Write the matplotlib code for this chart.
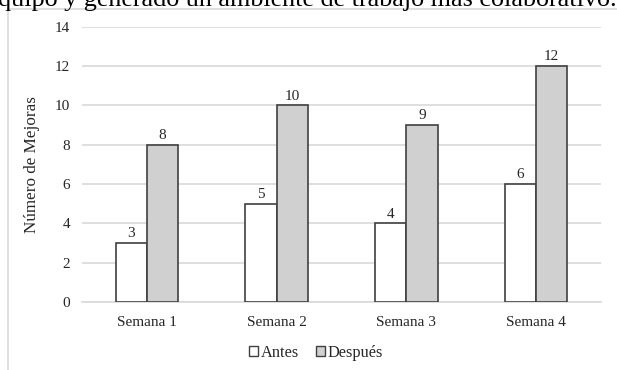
import matplotlib
matplotlib.use("Agg")
import matplotlib.pyplot as plt
import numpy as np
from matplotlib.patches import Patch
from matplotlib.lines import Line2D

plt.rcParams['font.family'] = ['Liberation Serif', 'DejaVu Serif']

categories = ["Semana 1", "Semana 2", "Semana 3", "Semana 4"]
antes = [3, 5, 4, 6]
despues = [8, 10, 9, 12]
series_names = ["Antes", "Después"]
yticks = [0, 2, 4, 6, 8, 10, 12, 14]
caption = "quipo y generado un ambiente de trabajo más colaborativo."

W, H = 617, 370
fig = plt.figure(figsize=(W / 100, H / 100), dpi=100)

# surrounding text line and chart frame
fig.text(-1.5 / W, 1 - 6 / H, caption, fontsize=18.8, color="#000000",
         ha="left", va="baseline")
fig.add_artist(Line2D([8 / W, 8 / W], [0, 1 - 9 / H], color="#d9d9d9", lw=1.2))
fig.add_artist(Line2D([8 / W, 1], [1 - 9 / H, 1 - 9 / H], color="#d9d9d9", lw=1.2))

ax = fig.add_axes([82 / W, 1 - 302 / H, (601 - 82) / W, (302 - 26.7) / H])

x = np.arange(len(categories))
bw = 0.24
edge = "#404040"
b1 = ax.bar(x - bw / 2, antes, bw, color="white", edgecolor=edge, linewidth=1.2, zorder=3)
b2 = ax.bar(x + bw / 2, despues, bw, color="#d0d0d0", edgecolor=edge, linewidth=1.2, zorder=3)

for bars, vals in ((b1, antes), (b2, despues)):
    for rect, v in zip(bars, vals):
        ax.annotate(str(v), (rect.get_x() + rect.get_width() / 2, v),
                    xytext=(0, 2), textcoords="offset points",
                    ha="center", va="bottom", fontsize=11, color="#262626")

ax.set_xlim(-0.5, len(categories) - 0.5)
ax.set_ylim(0, 14)
ax.set_yticks(yticks)
ax.set_xticks(x)
ax.set_xticklabels(categories)
ax.tick_params(axis="both", length=0, labelsize=11, colors="#262626")
ax.tick_params(axis="x", pad=10)
ax.tick_params(axis="y", pad=8.5)
ax.yaxis.grid(True, color="#d9d9d9", linewidth=1.2, zorder=0)
for s in ("top", "right", "left"):
    ax.spines[s].set_visible(False)
ax.spines["bottom"].set_color("#d9d9d9")
ax.spines["bottom"].set_linewidth(1.2)
ax.set_ylabel("Número de Mejoras", fontsize=12.3, color="#262626")
ax.yaxis.set_label_coords((40 - 82) / (601 - 82), 0.5)

handles = [Patch(facecolor="white", edgecolor=edge, linewidth=1.0),
           Patch(facecolor="#d0d0d0", edgecolor=edge, linewidth=1.0)]
fig.legend(handles, series_names, loc="center", bbox_to_anchor=(316 / W, 1 - 353 / H),
           ncol=2, frameon=False, fontsize=11.8, handlelength=0.55, handleheight=0.55,
           handletextpad=0.2, columnspacing=1.0, labelcolor="#262626")

fig.savefig("out.png", dpi=100, facecolor="white")
